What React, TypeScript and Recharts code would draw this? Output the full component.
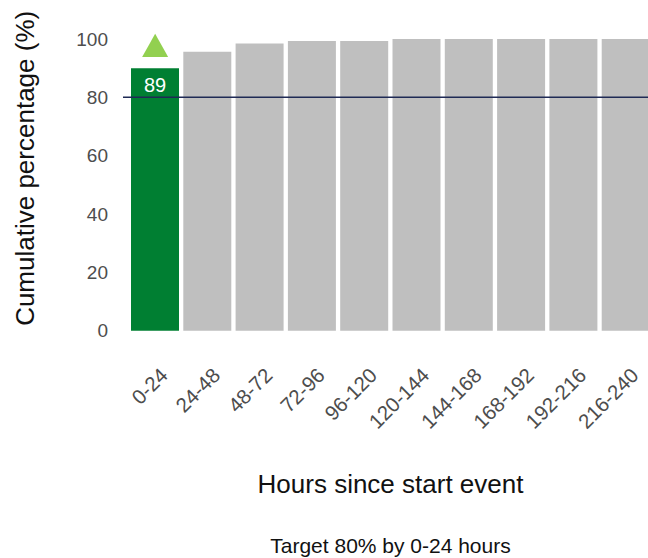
import {
  ComposedChart,
  Bar,
  Cell,
  Scatter,
  XAxis,
  YAxis,
  ReferenceLine,
  LabelList,
  Label,
} from "recharts";

const categories = [
  "0-24",
  "24-48",
  "48-72",
  "72-96",
  "96-120",
  "120-144",
  "144-168",
  "168-192",
  "192-216",
  "216-240",
];
const cumulativePct = [90, 95.6, 98.5, 99.3, 99.3, 100, 100, 100, 100, 100];
const barLabels = ["89", null, null, null, null, null, null, null, null, null];
const targetMarker = [96.5, null, null, null, null, null, null, null, null, null];
const yTicks = [0, 20, 40, 60, 80, 100];
const targetPct = 80;

const FONT = "'Liberation Sans', Arial, sans-serif";
const GREEN = "#007f32";
const GREY = "#bfbfbf";

const rows = categories.map((cat, i) => ({
  cat,
  pct: cumulativePct[i],
  label: barLabels[i],
  marker: targetMarker[i],
}));

function RotatedTick(props: any) {
  const { x, y, payload } = props;
  return (
    <text
      transform={`translate(${x + 14},${y + 46}) rotate(-45)`}
      textAnchor="end"
      fontSize={20.5}
      fontFamily={FONT}
      fill="#4d4d4d"
    >
      {payload.value}
    </text>
  );
}

function Triangle(props: any) {
  const { cx, cy, payload } = props;
  if (payload == null || payload.marker == null) return null;
  const pts = `${cx},${cy - 15.5} ${cx - 13},${cy + 7.8} ${cx + 13},${cy + 7.8}`;
  return <polygon points={pts} fill="#92d050" />;
}

function BarValue(props: any) {
  const { x, y, width, value } = props;
  if (value == null) return null;
  return (
    <text
      x={x + width / 2}
      y={y + 23.8}
      textAnchor="middle"
      fontSize={20}
      fontFamily={FONT}
      fill="#ffffff"
    >
      {value}
    </text>
  );
}

function XTitles(props: any) {
  const { viewBox } = props;
  const cx = viewBox.x + viewBox.width / 2;
  return (
    <g fontFamily={FONT} fill="#111">
      <text x={cx} y={viewBox.y + 162} textAnchor="middle" fontSize={26}>
        Hours since start event
      </text>
      <text x={cx} y={viewBox.y + 222} textAnchor="middle" fontSize={21}>
        Target 80% by 0-24 hours
      </text>
    </g>
  );
}

function YTitle(props: any) {
  const { viewBox } = props;
  const x = viewBox.x + 33.5;
  const y = viewBox.y + viewBox.height / 2 - 16.5;
  return (
    <text
      transform={`translate(${x},${y}) rotate(-90)`}
      textAnchor="middle"
      fontSize={26}
      fontFamily={FONT}
      fill="#111"
    >
      Cumulative percentage (%)
    </text>
  );
}

export default function App() {
  return (
    <div
      style={{
        position: "absolute",
        left: 0,
        top: 0,
        width: 648,
        height: 558,
        overflow: "hidden",
        background: "#fff",
      }}
    >
      <ComposedChart
        width={658}
        height={558}
        data={rows}
        margin={{ top: 39, right: 0, left: 0, bottom: 0 }}
      >
        <XAxis
          dataKey="cat"
          height={227.3}
          axisLine={false}
          tickLine={false}
          tickSize={0}
          tickMargin={0}
          interval={0}
          padding={{ left: 6, right: 6 }}
          tick={<RotatedTick />}
        >
          <Label content={<XTitles />} />
        </XAxis>
        <YAxis
          width={123}
          domain={[0, 100]}
          ticks={yTicks}
          axisLine={false}
          tickLine={false}
          tickSize={0}
          tickMargin={15}
          tick={{ fill: "#4d4d4d", fontSize: 19, fontFamily: FONT }}
        >
          <Label content={<YTitle />} />
        </YAxis>
        <Bar dataKey="pct" barSize={48} isAnimationActive={false}>
          {rows.map((r, i) => (
            <Cell key={r.cat} fill={i === 0 ? GREEN : GREY} />
          ))}
          <LabelList dataKey="label" content={<BarValue />} />
        </Bar>
        <ReferenceLine y={targetPct} stroke="#1f2a55" strokeWidth={1.5} />
        <Scatter
          dataKey="marker"
          shape={<Triangle />}
          isAnimationActive={false}
        />
      </ComposedChart>
    </div>
  );
}
